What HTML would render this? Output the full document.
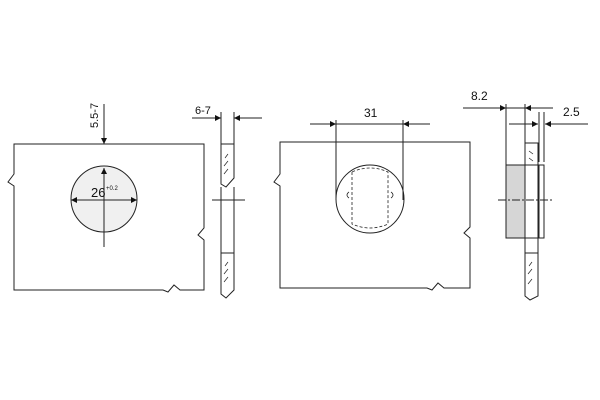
<!DOCTYPE html><html><head><style>body{margin:0;background:#fff}svg{display:block}text{font-family:"Liberation Sans",sans-serif;fill:#111;stroke:none}</style></head><body>
<svg width="600" height="400" viewBox="0 0 600 400" stroke="#222" stroke-width="1" fill="none">
<defs><marker id="a" viewBox="0 0 10 10" refX="10" refY="5" markerWidth="8" markerHeight="6" orient="auto-start-reverse"><path d="M0,0L10,5L0,10z" fill="#111" stroke="none"/></marker></defs>
<!-- left panel -->
<path d="M14,144H204V228L198,235L204,240V290H180L174,285L168,292L163,290H14V186L8,182L14,174Z"/>
<circle cx="104" cy="199" r="33" fill="#f0f0f0"/>
<line x1="104" y1="104" x2="104" y2="144" marker-end="url(#a)"/>
<line x1="104" y1="247" x2="104" y2="168" marker-end="url(#a)"/>
<line x1="104" y1="200" x2="71" y2="200" marker-end="url(#a)"/>
<line x1="104" y1="200" x2="137" y2="200" marker-end="url(#a)"/>
<text x="91" y="197" font-size="13">26</text><text x="106" y="190" font-size="6">+0.2</text>
<text transform="translate(98,128) rotate(-90)" font-size="11">5.5-7</text>
<!-- left side strip -->
<path d="M221,144H234V178L226,187L221,184Z"/><path d="M221,253H234V290L226,298L221,294Z"/>
<path d="M221,187V253M234,187V253" />
<line x1="221" y1="112" x2="221" y2="144"/><line x1="234" y1="112" x2="234" y2="144"/>
<line x1="192" y1="118" x2="221" y2="118" marker-end="url(#a)"/><line x1="262" y1="118" x2="234" y2="118" marker-end="url(#a)"/>
<line x1="212" y1="200" x2="245" y2="200"/>
<text x="195" y="114" font-size="11">6-7</text>
<g stroke-width="0.7"><path d="M225,158l3,-4M224,166l4,-5M224,174l4,-5M225,266l3,-4M224,274l4,-5M224,282l4,-5"/></g>
<!-- middle panel -->
<path d="M280,142H470V227L464,233L470,238V288H444L438,283L432,290L427,288H280V186L274,182L280,174Z"/>
<circle cx="370" cy="199" r="34"/>
<path d="M352,172V224Q370,232 388,224V172Q370,164 352,172" stroke-dasharray="3,2" stroke-width="0.8"/>
<path d="M349,192q-4,3 0,6M391,192q4,3 0,6" stroke-width="0.8"/>
<line x1="336" y1="120" x2="336" y2="200"/><line x1="403" y1="120" x2="403" y2="200"/>
<line x1="310" y1="124" x2="336" y2="124" marker-end="url(#a)"/><line x1="430" y1="124" x2="403" y2="124" marker-end="url(#a)"/>
<line x1="336" y1="124" x2="403" y2="124"/>
<text x="364" y="117" font-size="12">31</text>
<!-- right side -->
<rect x="506" y="165" width="19" height="73" fill="#d6d6d6"/>
<path d="M525,143H538V296L530,300L525,296Z"/>
<path d="M525,165H538M525,238H538M525,253H538"/>
<rect x="539" y="165" width="5" height="73"/>
<line x1="506" y1="104" x2="506" y2="165"/><line x1="525" y1="104" x2="525" y2="143"/>
<line x1="539" y1="112" x2="539" y2="162"/><line x1="544" y1="112" x2="544" y2="162"/>
<line x1="463" y1="108" x2="506" y2="108" marker-end="url(#a)"/><line x1="553" y1="108" x2="525" y2="108" marker-end="url(#a)"/><line x1="506" y1="108" x2="525" y2="108"/>
<line x1="509" y1="124" x2="538" y2="124" marker-end="url(#a)"/><line x1="588" y1="124" x2="545" y2="124" marker-end="url(#a)"/>
<line x1="498" y1="200" x2="553" y2="200" stroke-dasharray="8,2,2,2"/>
<text x="471" y="100" font-size="12">8.2</text><text x="563" y="116" font-size="12">2.5</text>
<g stroke-width="0.7"><path d="M529,151l4,3M529,158l4,3M529,266l3,-4M528,274l4,-5M528,284l4,-5"/></g>
</svg></body></html>
